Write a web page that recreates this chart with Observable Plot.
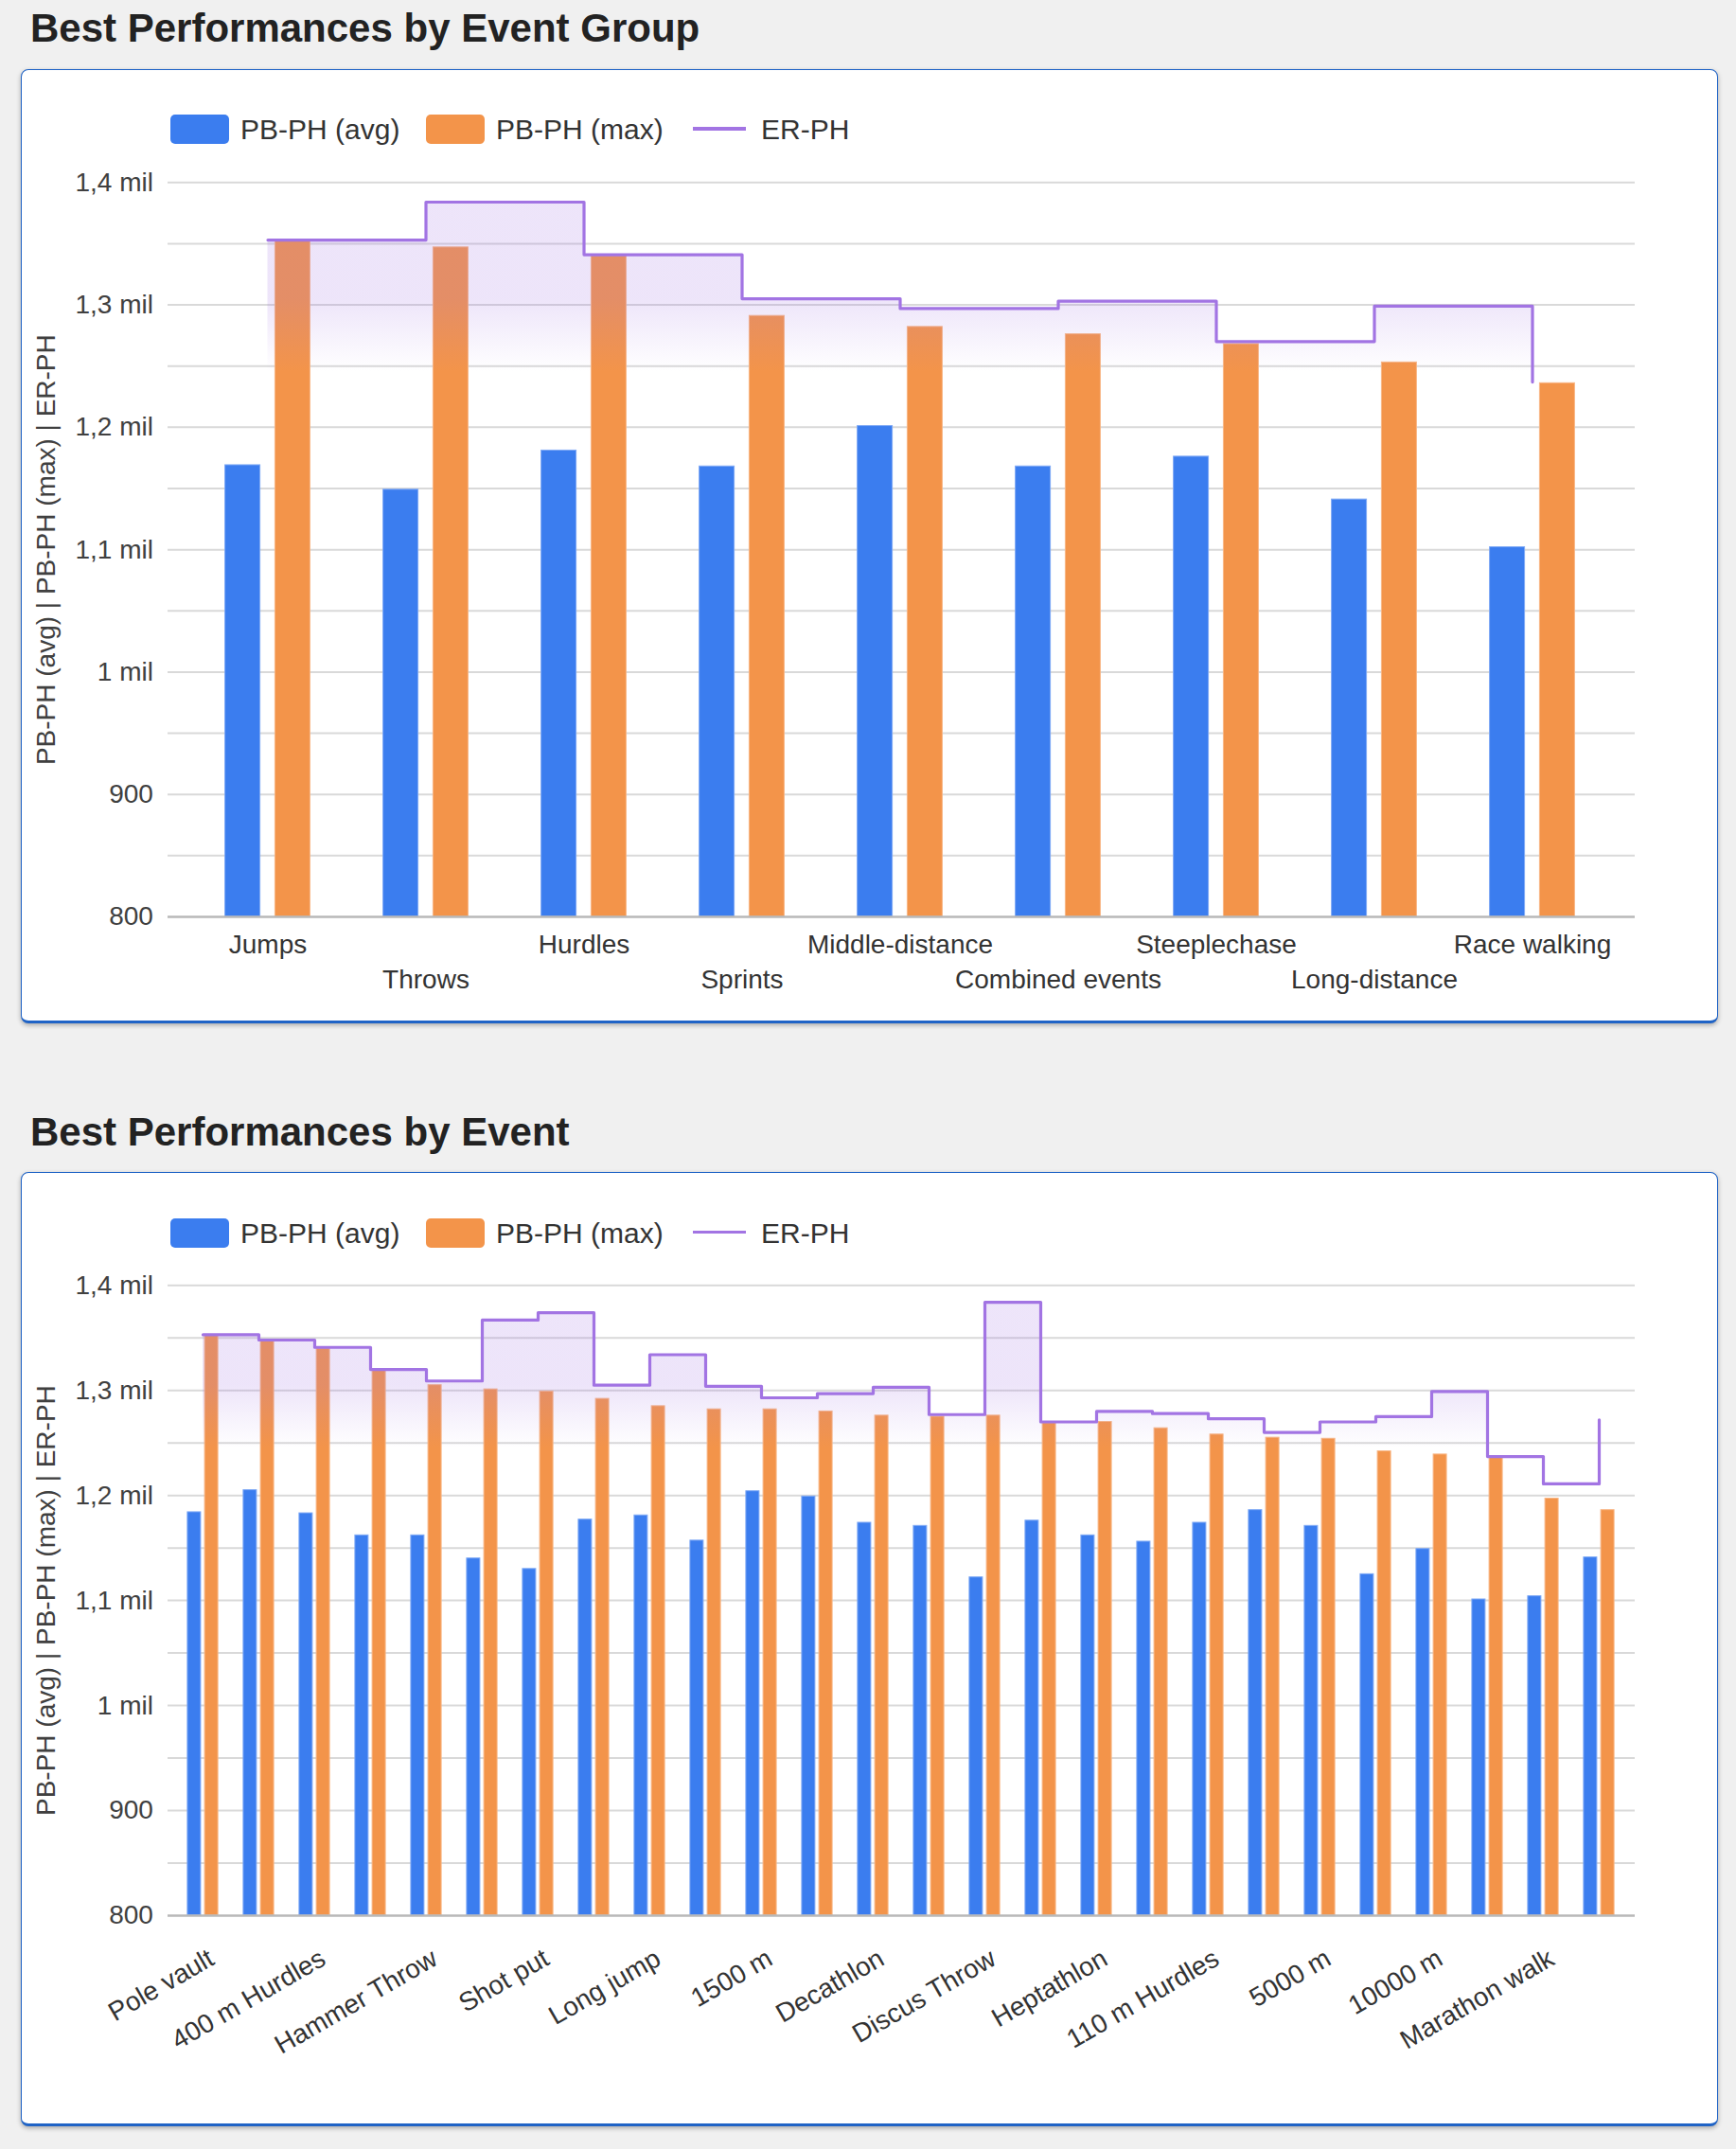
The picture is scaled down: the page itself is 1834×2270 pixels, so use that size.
<!DOCTYPE html>
<html>
<head>
<meta charset="utf-8">
<script src="https://cdn.jsdelivr.net/npm/d3@7"></script>
<script src="https://cdn.jsdelivr.net/npm/@observablehq/plot@0.6"></script>
<style>
html, body { margin: 0; padding: 0; background: #f0f0f0; overflow: hidden; }
body { width: 1834px; height: 2270px; position: relative; font-family: "Liberation Sans", Arial, sans-serif; }
.title { position: absolute; left: 32px; margin: 0; font-weight: bold; font-size: 42px; line-height: 42px; color: #222; white-space: nowrap; }
.card { position: absolute; left: 21.7px; width: 1793.8px; height: 1008px; background: #fff; border: 1.5px solid #1f63c6; border-bottom-width: 3px; border-radius: 8px; box-shadow: 0 2px 5px rgba(0,0,0,0.3); box-sizing: border-box; }
.sw { position: absolute; width: 62px; height: 31px; border-radius: 5px; }
.lt { position: absolute; font-size: 30px; line-height: 31px; height: 31px; color: #333; white-space: nowrap; }
.ln { position: absolute; width: 56px; height: 3.5px; }
.chart { position: absolute; left: 0; }
</style>
</head>
<body>
<script>
// ---------- data ----------
const groups = ["Jumps", "Throws", "Hurdles", "Sprints", "Middle-distance", "Combined events", "Steeplechase", "Long-distance", "Race walking"];
const groupAvg = [1169, 1149, 1181, 1168, 1201, 1168, 1176, 1141, 1102];
const groupMax = [1352, 1347, 1340, 1291, 1282, 1276, 1268, 1253, 1236];
const groupEr  = [1353, 1384, 1341, 1305, 1297, 1303, 1270, 1299, 1237];

const events = ["Pole vault", "Javelin Throw", "400 m Hurdles", "High jump", "Hammer Throw", "Triple jump", "Shot put", "400 m", "Long jump", "100 m", "1500 m", "800 m", "Decathlon", "200 m", "Discus Throw", "3000 m Steeplechase", "Heptathlon", "100 m Hurdles", "110 m Hurdles", "3000 m", "5000 m", "Marathon", "10000 m", "20 km Race Walk", "Marathon walk", "Half marathon"];
const eventAvg = [1184, 1205, 1183, 1162, 1162, 1140, 1130, 1177, 1181, 1157, 1204, 1199, 1174, 1171, 1122, 1176, 1162, 1156, 1174, 1186, 1171, 1125, 1149, 1101, 1104, 1141];
const eventMax = [1352, 1347, 1340, 1319, 1305, 1301, 1299, 1292, 1285, 1282, 1282, 1280, 1276, 1275, 1276, 1269, 1270, 1264, 1258, 1255, 1254, 1242, 1239, 1236, 1197, 1186];
const eventEr  = [1353, 1348, 1341, 1320, 1309, 1367, 1374, 1305, 1334, 1304, 1293, 1297, 1303, 1277, 1384, 1270, 1280, 1278, 1273, 1260, 1270, 1275, 1299, 1237, 1211, 1272];

const seriesNames = ["PB-PH (avg)", "PB-PH (max)", "ER-PH"];
const yTitle = "PB-PH (avg) | PB-PH (max) | ER-PH";
const yDomain = [800, 1400];
const yTicks = [800, 900, 1000, 1100, 1200, 1300, 1400];
const yGrid = [850, 900, 950, 1000, 1050, 1100, 1150, 1200, 1250, 1300, 1350, 1400];
const gradStops = [1305, 1245];

// ---------- style ----------
const BLUE = "#3b7def", BLUE_EDGE = "#7fa9f5";
const ORANGE = "#f3944a", ORANGE_EDGE = "#f8b685";
const PURPLE = "#a274e3";
const FONT = "'Liberation Sans', Arial, sans-serif";

const fmt = v => v >= 1000 ? String(v / 1000).replace(".", ",") + " mil" : String(v);

function gradientMark(id) {
  return (index, scales) => {
    const defs = d3.create("svg:defs");
    const g = defs.append("linearGradient")
      .attr("id", id).attr("gradientUnits", "userSpaceOnUse")
      .attr("x1", 0).attr("x2", 0)
      .attr("y1", scales.y(gradStops[0])).attr("y2", scales.y(gradStops[1]));
    g.append("stop").attr("offset", 0).attr("stop-color", PURPLE).attr("stop-opacity", 0.19);
    g.append("stop").attr("offset", 1).attr("stop-color", PURPLE).attr("stop-opacity", 0);
    return defs.node();
  };
}

function addLegend(cardTop) {
  const items = [
    {cls: "sw", left: 180, top: 48.5, color: BLUE},
    {cls: "lt", left: 254, top: 48.5, text: seriesNames[0]},
    {cls: "sw", left: 449.5, top: 48.5, color: ORANGE},
    {cls: "lt", left: 524, top: 48.5, text: seriesNames[1]},
    {cls: "ln", left: 732, top: 61.5, color: PURPLE},
    {cls: "lt", left: 804, top: 48.5, text: seriesNames[2]},
  ];
  for (const it of items) {
    const d = document.createElement("div");
    d.className = it.cls;
    d.style.left = it.left + "px";
    d.style.top = (cardTop + it.top) + "px";
    if (it.color) d.style.background = it.color;
    if (it.text) d.textContent = it.text;
    document.body.appendChild(d);
  }
}

function makeChart(cfg) {
  const {title, cardTop, cats, avg, max, er, height, plotHeight, insetL, insetR, bw, off, gid, xAxes} = cfg;
  const h = document.createElement("h2");
  h.className = "title";
  h.textContent = title;
  h.style.top = (cardTop - 63.4) + "px";
  document.body.appendChild(h);

  const card = document.createElement("div");
  card.className = "card";
  card.style.top = cardTop + "px";
  document.body.appendChild(card);

  addLegend(cardTop);

  const data = cats.map((c, i) => ({cat: c, avg: avg[i], max: max[i], er: er[i]}));
  const marginTop = 39.3;
  const marginBottom = height - marginTop - plotHeight;
  const pInner = 1 - bw / ((1550 - insetL - insetR) / cats.length);

  const plot = Plot.plot({
    width: 1834,
    height,
    marginLeft: 177,
    marginRight: 107,
    marginTop,
    marginBottom,
    style: {background: "transparent", fontFamily: FONT, overflow: "visible"},
    x: {domain: cats, type: "band", paddingInner: pInner, paddingOuter: pInner / 2, insetLeft: insetL, insetRight: insetR},
    y: {domain: yDomain},
    marks: [
      gradientMark(gid),
      Plot.ruleY(yGrid, {stroke: "#d9d9d9", strokeWidth: 2}),
      Plot.barY(data, {x: "cat", y1: yDomain[0], y2: "avg", fill: BLUE, stroke: BLUE_EDGE, strokeWidth: 1, dx: -off}),
      Plot.barY(data, {x: "cat", y1: yDomain[0], y2: "max", fill: ORANGE, stroke: ORANGE_EDGE, strokeWidth: 1, dx: off}),
      Plot.areaY(data, {x: "cat", y1: yDomain[0], y2: "er", curve: "step-after", fill: `url(#${gid})`}),
      Plot.lineY(data, {x: "cat", y: "er", curve: "step-after", stroke: PURPLE, strokeWidth: 3.2}),
      Plot.ruleY([yDomain[0]], {stroke: "#b8b8b8", strokeWidth: 2.5}),
      Plot.axisY({ticks: yTicks, tickFormat: fmt, tickSize: 0, tickPadding: 15.6, fontSize: 28, fill: "#404040", label: null}),
      ...xAxes,
      Plot.text([yTitle], {frameAnchor: "left", textAnchor: "middle", lineAnchor: "middle", rotate: -90, dx: 49 - 177, fontSize: 28, fill: "#404040"})
    ]
  });
  const wrap = document.createElement("div");
  wrap.className = "chart";
  wrap.style.top = (cardTop + 80) + "px";
  wrap.appendChild(plot);
  document.body.appendChild(wrap);
}

makeChart({
  title: "Best Performances by Event Group",
  cardTop: 72.5,
  cats: groups, avg: groupAvg, max: groupMax, er: groupEr,
  height: 920, plotHeight: 775.7,
  insetL: 21.4, insetR: 23.4, bw: 37.5, off: 26.4, gid: "grad1",
  xAxes: [
    Plot.axisX(groups.filter((d, i) => i % 2 === 0), {tickSize: 0, tickPadding: 19, fontSize: 28, fill: "#333", label: null}),
    Plot.axisX(groups.filter((d, i) => i % 2 === 1), {tickSize: 0, tickPadding: 56, fontSize: 28, fill: "#333", label: null})
  ]
});

makeChart({
  title: "Best Performances by Event",
  cardTop: 1238.3,
  cats: events, avg: eventAvg, max: eventMax, er: eventEr,
  height: 900, plotHeight: 665.6,
  insetL: 6.7, insetR: 8.3, bw: 14, off: 9.1, gid: "grad2",
  xAxes: [
    Plot.axisX(events.filter((d, i) => i % 2 === 0), {tickSize: 0, tickRotate: -30, textAnchor: "end", lineAnchor: "middle", tickPadding: 43, dx: 9, fontSize: 28, fill: "#333", label: null})
  ]
});
</script>
</body>
</html>
